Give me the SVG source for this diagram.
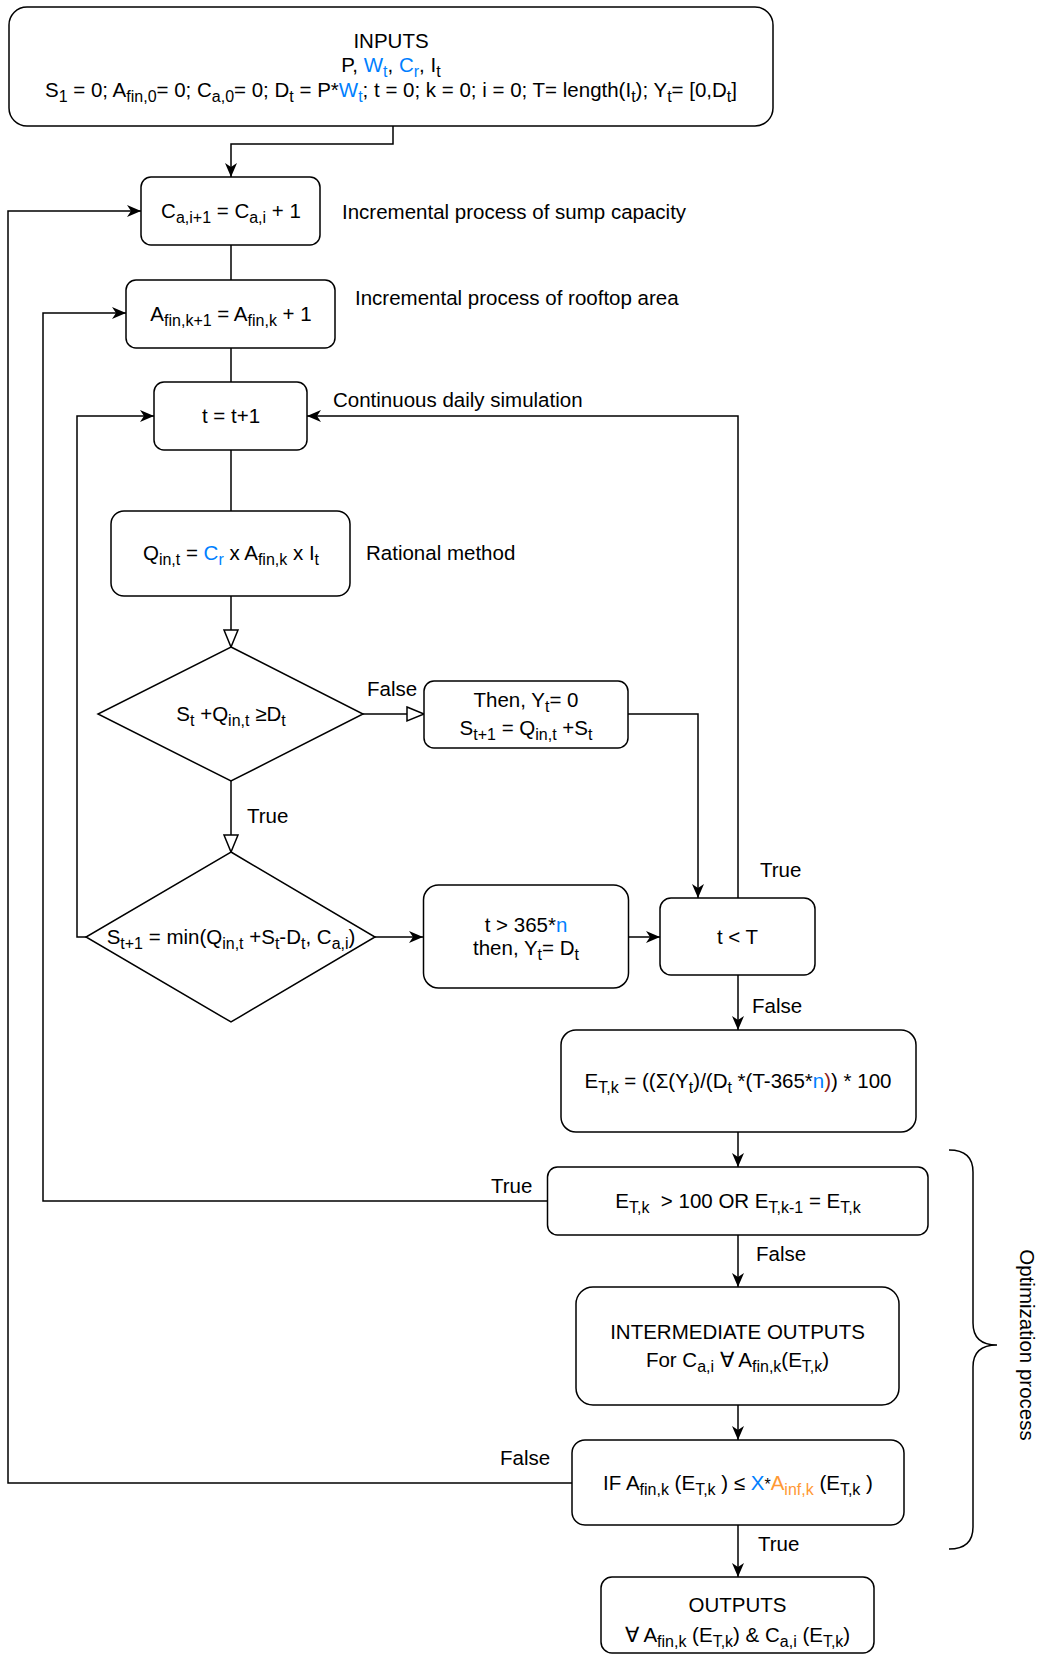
<svg xmlns="http://www.w3.org/2000/svg" width="1039" height="1657" viewBox="0 0 1039 1657">
<style>
.box{fill:#fff;stroke:#000;stroke-width:1.5}
.edge{fill:none;stroke:#000;stroke-width:1.5}
text{font-family:"Liberation Sans",Arial,Helvetica,sans-serif;font-size:20.5px;fill:#000}
.c{text-anchor:middle}
.b{fill:#007FFF}
.o{fill:#FF9933}
.r{fill:#8B1A1A}
.s{font-size:16px}
</style>
<defs>
<marker id="arr" markerUnits="userSpaceOnUse" markerWidth="16" markerHeight="14" refX="14" refY="6" orient="auto" overflow="visible"><path d="M0,0 L14,6 L0,12 L4,6 Z" fill="#000"/></marker>
<marker id="tri" markerUnits="userSpaceOnUse" markerWidth="20" markerHeight="18" refX="18" refY="8" orient="auto" overflow="visible"><path d="M1,1 L18,8 L1,15 Z" fill="#fff" stroke="#000" stroke-width="1.5"/></marker>
</defs>
<rect width="1039" height="1657" fill="#fff"/>

<g id="connectors">
<path class="edge" d="M393,126 V144 H231 V177" marker-end="url(#arr)"/>
<path class="edge" d="M231,245 V280"/>
<path class="edge" d="M231,348 V382"/>
<path class="edge" d="M231,450 V511"/>
<path class="edge" d="M231,596 V647" marker-end="url(#tri)"/>
<path class="edge" d="M363,714 H424" marker-end="url(#tri)"/>
<path class="edge" d="M628,714 H698 V898" marker-end="url(#arr)"/>
<path class="edge" d="M231,781 V852" marker-end="url(#tri)"/>
<path class="edge" d="M86,937 H77 V416 H154" marker-end="url(#arr)"/>
<path class="edge" d="M375,937 H423" marker-end="url(#arr)"/>
<path class="edge" d="M629,937 H660" marker-end="url(#arr)"/>
<path class="edge" d="M738,898 V416 H307" marker-end="url(#arr)"/>
<path class="edge" d="M738,975 V1030" marker-end="url(#arr)"/>
<path class="edge" d="M738,1132 V1167" marker-end="url(#arr)"/>
<path class="edge" d="M547,1201 H43 V313 H126" marker-end="url(#arr)"/>
<path class="edge" d="M738,1235 V1287" marker-end="url(#arr)"/>
<path class="edge" d="M738,1405 V1440" marker-end="url(#arr)"/>
<path class="edge" d="M572,1483 H8 V211 H141" marker-end="url(#arr)"/>
<path class="edge" d="M738,1525 V1577" marker-end="url(#arr)"/>
<text x="367" y="696">False</text>
<text x="247" y="823">True</text>
<text x="760" y="877">True</text>
<text x="752" y="1013">False</text>
<text x="491" y="1193">True</text>
<text x="756" y="1261">False</text>
<text x="500" y="1465">False</text>
<text x="758" y="1551">True</text>
</g>

<g id="inputs">
<rect class="box" x="9" y="7" width="764" height="119" rx="18"/>
<text class="c" x="391" y="48">INPUTS</text>
<text class="c" x="391" y="72">P, <tspan class="b">W</tspan><tspan class="s b" dy="5">t</tspan><tspan dy="-5">, </tspan><tspan class="b">C</tspan><tspan class="s b" dy="5">r</tspan><tspan dy="-5">, I</tspan><tspan class="s" dy="5">t</tspan></text>
<text class="c" x="391" y="97">S<tspan class="s" dy="5">1</tspan><tspan dy="-5"> = 0; A</tspan><tspan class="s" dy="5">fin,0</tspan><tspan dy="-5">= 0; C</tspan><tspan class="s" dy="5">a,0</tspan><tspan dy="-5">= 0; D</tspan><tspan class="s" dy="5">t</tspan><tspan dy="-5"> = P*</tspan><tspan class="b">W</tspan><tspan class="s b" dy="5">t</tspan><tspan dy="-5">; t = 0; k = 0; i = 0; T= length(I</tspan><tspan class="s" dy="5">t</tspan><tspan dy="-5">); Y</tspan><tspan class="s" dy="5">t</tspan><tspan dy="-5">= [0,D</tspan><tspan class="s" dy="5">t</tspan><tspan dy="-5">]</tspan></text>
</g>

<g id="sump">
<rect class="box" x="141" y="177" width="179" height="68" rx="10"/>
<text class="c" x="231" y="218">C<tspan class="s" dy="5">a,i+1</tspan><tspan dy="-5"> = C</tspan><tspan class="s" dy="5">a,i</tspan><tspan dy="-5"> + 1</tspan></text>
<text x="342" y="219">Incremental process of sump capacity</text>
</g>

<g id="rooftop">
<rect class="box" x="126" y="280" width="209" height="68" rx="10"/>
<text class="c" x="231" y="321">A<tspan class="s" dy="5">fin,k+1</tspan><tspan dy="-5"> = A</tspan><tspan class="s" dy="5">fin,k</tspan><tspan dy="-5"> + 1</tspan></text>
<text x="355" y="305">Incremental process of rooftop area</text>
</g>

<g id="time">
<rect class="box" x="154" y="382" width="153" height="68" rx="10"/>
<text class="c" x="231" y="423">t = t+1</text>
<text x="333" y="407">Continuous daily simulation</text>
</g>

<g id="rational">
<rect class="box" x="111" y="511" width="239" height="85" rx="13"/>
<text class="c" x="231" y="560">Q<tspan class="s" dy="5">in,t</tspan><tspan dy="-5"> = </tspan><tspan class="b">C</tspan><tspan class="s b" dy="5">r</tspan><tspan dy="-5"> x A</tspan><tspan class="s" dy="5">fin,k</tspan><tspan dy="-5"> x I</tspan><tspan class="s" dy="5">t</tspan></text>
<text x="366" y="560">Rational method</text>
</g>

<g id="decision1">
<polygon class="box" points="231,647 363,714 231,781 98,714"/>
<text class="c" x="231" y="721">S<tspan class="s" dy="5">t</tspan><tspan dy="-5"> +Q</tspan><tspan class="s" dy="5">in,t</tspan><tspan dy="-5"> ≥D</tspan><tspan class="s" dy="5">t</tspan></text>
</g>

<g id="then-zero">
<rect class="box" x="424" y="681" width="204" height="67" rx="10"/>
<text class="c" x="526" y="707">Then, Y<tspan class="s" dy="5">t</tspan><tspan dy="-5">= 0</tspan></text>
<text class="c" x="526" y="735">S<tspan class="s" dy="5">t+1</tspan><tspan dy="-5"> = Q</tspan><tspan class="s" dy="5">in,t</tspan><tspan dy="-5"> +S</tspan><tspan class="s" dy="5">t</tspan></text>
</g>

<g id="decision2">
<polygon class="box" points="231,852 375,937 231,1022 86,937"/>
<text class="c" x="231" y="944">S<tspan class="s" dy="5">t+1</tspan><tspan dy="-5"> = min(Q</tspan><tspan class="s" dy="5">in,t</tspan><tspan dy="-5"> +S</tspan><tspan class="s" dy="5">t</tspan><tspan dy="-5">-D</tspan><tspan class="s" dy="5">t</tspan><tspan dy="-5">, C</tspan><tspan class="s" dy="5">a,i</tspan><tspan dy="-5">)</tspan></text>
</g>

<g id="then-demand">
<rect class="box" x="423.5" y="885" width="205" height="103" rx="15"/>
<text class="c" x="526" y="932">t &gt; 365*<tspan class="b">n</tspan></text>
<text class="c" x="526" y="955">then, Y<tspan class="s" dy="5">t</tspan><tspan dy="-5">= D</tspan><tspan class="s" dy="5">t</tspan></text>
</g>

<g id="t-less-T">
<rect class="box" x="660" y="898" width="155" height="77" rx="11"/>
<text class="c" x="737.5" y="944">t &lt; T</text>
</g>

<g id="efficiency">
<rect class="box" x="561" y="1030" width="355" height="102" rx="15"/>
<text class="c" x="738" y="1088">E<tspan class="s" dy="5">T,k</tspan><tspan dy="-5"> = ((Σ(Y</tspan><tspan class="s" dy="5">t</tspan><tspan dy="-5">)/(D</tspan><tspan class="s" dy="5">t</tspan><tspan dy="-5"> *(T-365*</tspan><tspan class="b">n</tspan><tspan class="r">)</tspan>) * 100</text>
</g>

<g id="condition">
<rect class="box" x="547.5" y="1167" width="380.5" height="68" rx="10"/>
<text class="c" x="738" y="1208">E<tspan class="s" dy="5">T,k</tspan><tspan dy="-5">&#160; &gt; 100 OR E</tspan><tspan class="s" dy="5">T,k-1</tspan><tspan dy="-5"> = E</tspan><tspan class="s" dy="5">T,k</tspan></text>
</g>

<g id="intermediate">
<rect class="box" x="576" y="1287" width="323" height="118" rx="17"/>
<text class="c" x="737.5" y="1339">INTERMEDIATE OUTPUTS</text>
<text class="c" x="737.5" y="1367">For C<tspan class="s" dy="5">a,i</tspan><tspan dy="-5"> ∀ A</tspan><tspan class="s" dy="5">fin,k</tspan><tspan dy="-5">(E</tspan><tspan class="s" dy="5">T,k</tspan><tspan dy="-5">)</tspan></text>
</g>

<g id="if-check">
<rect class="box" x="572" y="1440" width="332" height="85" rx="13"/>
<text class="c" x="738" y="1490">IF A<tspan class="s" dy="5">fin,k</tspan><tspan dy="-5"> (E</tspan><tspan class="s" dy="5">T,k</tspan><tspan dy="-5"> ) ≤ </tspan><tspan class="b">X</tspan><tspan class="s">*</tspan><tspan class="o">A</tspan><tspan class="s o" dy="5">inf,k</tspan><tspan dy="-5"> (E</tspan><tspan class="s" dy="5">T,k</tspan><tspan dy="-5"> )</tspan></text>
</g>

<g id="outputs">
<rect class="box" x="601" y="1577" width="273" height="76" rx="11"/>
<text class="c" x="737.5" y="1612">OUTPUTS</text>
<text class="c" x="737.5" y="1642">∀ A<tspan class="s" dy="5">fin,k</tspan><tspan dy="-5"> (E</tspan><tspan class="s" dy="5">T,k</tspan><tspan dy="-5">) &amp; C</tspan><tspan class="s" dy="5">a,i</tspan><tspan dy="-5"> (E</tspan><tspan class="s" dy="5">T,k</tspan><tspan dy="-5">)</tspan></text>
</g>

<g id="optimization">
<path class="edge" d="M949,1150 Q973,1150 973,1172 V1323 Q973,1345 997,1345 Q973,1345 973,1367 V1527 Q973,1549 949,1549"/>
<text class="c" transform="translate(1020,1345) rotate(90)" x="0" y="0">Optimization process</text>
</g>
</svg>
